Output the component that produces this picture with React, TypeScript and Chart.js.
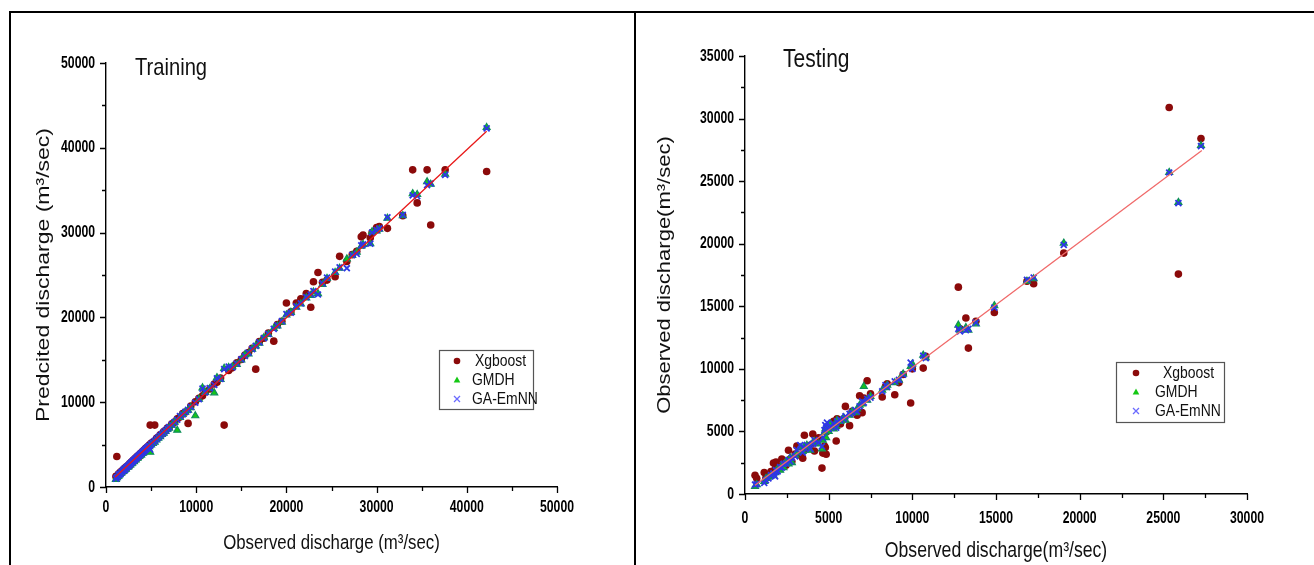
import React, { useEffect, useRef } from "react";
import { Chart, registerables } from "chart.js";

Chart.register(...registerables);

// ---------------- DATA ----------------
const legendLabels = ["Xgboost", "GMDH", "GA-EmNN"];

const trainXTicks = [0, 10000, 20000, 30000, 40000, 50000];
const trainYTicks = [0, 10000, 20000, 30000, 40000, 50000];

const trainObserved = [
  1100, 1200, 1300, 1400, 1500, 1600, 1700, 1800, 1900, 2000,
  2100, 2200, 2300, 2400, 2500, 2600, 2700, 2800, 2900, 3000,
  3100, 3200, 3300, 3400, 3500, 3600, 3700, 3800, 3900, 4000,
  4100, 4200, 4300, 4400, 4500, 4600, 4700, 4800, 4900, 5000,
  5200, 5400, 5600, 5800, 6000, 6200, 6400, 6600, 6800, 7000,
  7300, 7600, 7900, 8200, 8500, 8800, 9100, 9400, 9900,
  10300, 10700, 11000, 11500, 12000, 12300, 12700, 13100, 13600, 14000,
  14500, 15000, 15400, 15800, 16200, 16600, 17000, 17500, 18000, 18600,
  19000, 19500, 20000, 20500, 21100, 21600, 22200, 22700, 23000, 23500,
  24000, 24500, 25400, 25900, 26700, 27300, 27800, 28300, 28500, 29300,
  29500, 30000, 30300, 31200, 32900, 34000, 34500, 35600, 36000, 37600,
  42200,
];
const trainXgboost = [
  1250, 3600, 1350, 1550, 1500, 1750, 1650, 1950, 1850, 2150,
  2050, 2350, 2250, 2500, 2450, 2750, 2600, 2950, 2850, 3150,
  3050, 3350, 3250, 3550, 3450, 3750, 3600, 3950, 3850, 4150,
  4050, 4350, 4250, 4550, 4400, 4750, 4650, 4950, 7300, 5150,
  5300, 7300, 5750, 5850, 6150, 6250, 6550, 6650, 6950, 7050,
  7450, 7650, 8050, 8250, 8650, 8850, 7500, 9550, 10050,
  10450, 10750, 11200, 11550, 12150, 12350, 12850, 7300, 13750, 14050,
  14650, 15050, 15550, 15850, 16350, 13900, 17150, 17550, 18150, 17200,
  19150, 19550, 21700, 20650, 21700, 22200, 22800, 21200, 24200, 25300,
  24150, 24400, 24800, 27200, 26600, 27400, 27800, 29500, 29700, 29400,
  30000, 30600, 30700, 30500, 32000, 37400, 33500, 37400, 30900, 37400,
  37200,
];
const trainGMDH = [
  900, 1100, 1250, 1300, 1450, 1600, 1650, 1800, 1850, 2000,
  2150, 2100, 2300, 2350, 2400, 2650, 2600, 2750, 2800, 3050,
  3000, 3250, 3200, 3450, 3400, 3650, 3650, 3750, 3800, 4000,
  4000, 4150, 4200, 4400, 4350, 4500, 4550, 4750, 4100, 4950,
  5150, 5300, 5550, 5750, 5950, 6200, 6350, 6550, 6800, 6950,
  7300, 7650, 6700, 8200, 8550, 8850, 9050, 9350, 8400,
  10350, 11700, 11150, 11600, 11100, 12900, 12700, 14000, 14100, 14200,
  14450, 15000, 15600, 15700, 16250, 16650, 16950, 17600, 18000, 18700,
  19000, 19450, 20300, 20600, 21200, 21600, 22300, 22600, 23000, 22800,
  23900, 24600, 25300, 25800, 26900, 27300, 27700, 28400, 28600, 28700,
  30100, 30200, 30400, 31700, 32000, 34600, 34500, 36000, 35700, 36900,
  42400,
];
const trainGAEmNN = [
  1000, 1150, 1200, 1450, 1500, 1550, 1750, 1800, 1950, 2100,
  2000, 2250, 2350, 2400, 2550, 2600, 2750, 2850, 2950, 3050,
  3150, 3250, 3350, 3450, 3550, 3650, 3750, 3850, 3950, 4050,
  4150, 4250, 4350, 4450, 4550, 4650, 4750, 4850, 4400, 5050,
  5250, 5450, 5650, 5850, 6050, 6250, 6450, 6650, 6850, 7050,
  7350, 7650, 7950, 8350, 8550, 8850, 9100, 9450, 9950,
  10350, 11600, 11150, 11650, 12050, 12800, 12750, 13900, 14200, 14100,
  14550, 15050, 15450, 15850, 16250, 16650, 17050, 17550, 18050, 18650,
  19050, 19550, 20400, 20550, 21300, 21650, 22400, 22700, 23100, 22700,
  24000, 24700, 25400, 25900, 25800, 27350, 27500, 28500, 28600, 28700,
  30000, 30300, 30500, 31800, 32100, 34400, 34300, 35600, 35800, 36800,
  42300,
];
const trainFitX = [1000, 42200];
const trainFitY = [1150, 41950];

const testXTicks = [0, 5000, 10000, 15000, 20000, 25000, 30000];
const testYTicks = [0, 5000, 10000, 15000, 20000, 25000, 30000, 35000];

const testObserved = [
  600, 700, 1150, 1250, 1400, 1550, 1700, 1800, 1850, 1950,
  2100, 2200, 2300, 2450, 2600, 2700, 2800, 3000, 3100, 3300,
  3450, 3550, 3700, 3900, 4050, 4150, 4400, 4600, 4650, 4750,
  4800, 4850, 4900, 5000, 5100, 5300, 5450, 5500, 5700, 5900,
  6000, 6250, 6400, 6600, 6700, 6850, 7000, 7100, 7300, 7500,
  8200, 8400, 8500, 8950, 9200, 9450, 9900, 10000, 10650, 10800,
  12750, 12850, 13200, 13350, 13800, 14900, 16850, 17250, 19050, 25350,
  25900, 27250,
];
const testXgboost = [
  1500, 1250, 1720, 1300, 1500, 1800, 2480, 2000, 2560, 2250,
  2100, 2800, 2500, 2300, 3500, 2800, 2600, 3200, 3840, 3100,
  2860, 4690, 3600, 3900, 4790, 3440, 4500, 2070, 3270, 3840,
  3710, 3180, 5000, 5300, 5500, 5800, 4240, 6000, 5600, 6000,
  7000, 5460, 6600, 6550, 6300, 7850, 6500, 7670, 9050, 8000,
  7750, 8600, 8800, 7930, 8900, 9550, 7270, 10000, 10060, 11000,
  16530, 13200, 14060, 11660, 13800, 14500, 17000, 16800, 19250, 30880,
  17570, 28400,
];
const testGMDH = [
  600, 750, 1000, 1250, 1350, 1450, 1500, 1700, 1800, 2000,
  1900, 2300, 2100, 2600, 2400, 2900, 2500, 3100, 3300, 3700,
  3400, 3800, 3900, 3500, 4100, 4200, 4000, 3600, 4300, 4900,
  5200, 4500, 5400, 5000, 5600, 5200, 5400, 5900, 5800, 6100,
  5900, 6300, 6600, 6500, 6800, 7100, 7200, 8600, 7500, 7800,
  8300, 8500, 8700, 8900, 9100, 9600, 10200, 10400, 11100, 10900,
  13500, 13100, 13300, 13100, 13600, 15050, 17000, 17200, 20050, 25700,
  23300, 27850,
];
const testGAEmNN = [
  750, 800, 880, 1100, 1250, 1500, 1650, 1400, 1900, 1800,
  2150, 2100, 2400, 2450, 2700, 2600, 2900, 3000, 3500, 3900,
  3300, 3700, 3900, 3600, 4000, 4300, 4100, 3800, 4500, 5100,
  5500, 5300, 5700, 5200, 5400, 5600, 5300, 5800, 5900, 6000,
  6200, 6400, 6500, 6700, 6600, 7000, 7400, 7300, 7600, 7700,
  8200, 8700, 8550, 9000, 9130, 9530, 10500, 10000, 11050, 10860,
  13200, 13000, 13100, 13200, 13700, 14900, 17120, 17300, 19900, 25690,
  23240, 27800,
];
const testFitX = [600, 27300];
const testFitY = [700, 27450];

// ---------------- STYLE ----------------
const SANS = '"Liberation Sans", Arial, sans-serif';
const XGB_COLOR = "#8b0a0a";
const GMDH_COLOR = "#14c814";
const GMDH_EDGE = "#0f8f5a";
const GA_COLOR = "#2f36e6";

type Box = { left: number; top: number; right: number; bottom: number };
type PanelSpec = {
  canvasLeft: number;
  width: number;
  height: number;
  area: Box;
  observed: number[];
  xgb: number[];
  gmdh: number[];
  ga: number[];
  fitX: number[];
  fitY: number[];
  xTicks: number[];
  yTicks: number[];
  title: string;
  titleX: number;
  titleY: number;
  titleSize: number;
  xTitle: string;
  xTitleY: number;
  xTitleSize: number;
  yTitle: string;
  yTitleX: number;
  yTitleSize: number;
  lineColor: string;
  xLabelOffset: number;
  yLabelPad: number;
  legend: Box & { markerX: number; rows: number[]; textX: number[]; size: number };
};

function drawScaledText(
  ctx: CanvasRenderingContext2D,
  text: string,
  x: number,
  y: number,
  font: string,
  sx: number,
  align: CanvasTextAlign,
  rotate: boolean,
  color = "#111"
) {
  ctx.save();
  ctx.translate(x, y);
  ctx.scale(sx, 1);
  if (rotate) ctx.rotate(-Math.PI / 2);
  ctx.font = font;
  ctx.fillStyle = color;
  ctx.textAlign = align;
  ctx.textBaseline = "middle";
  ctx.fillText(text, 0, 0);
  ctx.restore();
}

function makeChart(canvas: HTMLCanvasElement, s: PanelSpec) {
  const ox = s.canvasLeft;
  const pts = (ys: number[]) => s.observed.map((x, i) => ({ x, y: ys[i] }));
  const fit = s.fitX.map((x, i) => ({ x, y: s.fitY[i] }));

  const decor = {
    id: "decor",
    afterDraw(chart: any) {
      const ctx: CanvasRenderingContext2D = chart.ctx;
      const xs = chart.scales.x;
      const ys = chart.scales.y;
      const a = chart.chartArea;
      ctx.save();
      ctx.strokeStyle = "#000";
      ctx.lineWidth = 1.3;
      ctx.beginPath();
      const xt = s.xTicks;
      for (let i = 0; i < xt.length; i++) {
        const p = Math.round(xs.getPixelForValue(xt[i])) + 0.5;
        ctx.moveTo(p, a.bottom);
        ctx.lineTo(p, a.bottom + 6);
        if (i < xt.length - 1) {
          const m = Math.round(xs.getPixelForValue((xt[i] + xt[i + 1]) / 2)) + 0.5;
          ctx.moveTo(m, a.bottom);
          ctx.lineTo(m, a.bottom + 4);
        }
      }
      const yt = s.yTicks;
      for (let i = 0; i < yt.length; i++) {
        const p = Math.round(ys.getPixelForValue(yt[i])) + 0.5;
        ctx.moveTo(a.left, p);
        ctx.lineTo(a.left - 6, p);
        if (i < yt.length - 1) {
          const m = Math.round(ys.getPixelForValue((yt[i] + yt[i + 1]) / 2)) + 0.5;
          ctx.moveTo(a.left, m);
          ctx.lineTo(a.left - 4, m);
        }
      }
      ctx.stroke();
      ctx.restore();

      // tick labels (bold, condensed)
      const tickFont = `bold 16.5px ${SANS}`;
      for (const v of xt) {
        drawScaledText(ctx, String(v), xs.getPixelForValue(v), a.bottom + s.xLabelOffset, tickFont, 0.74, "center", false, "#000");
      }
      for (const v of yt) {
        drawScaledText(ctx, String(v), a.left - s.yLabelPad, ys.getPixelForValue(v), tickFont, 0.74, "right", false, "#000");
      }

      // panel title
      drawScaledText(ctx, s.title, s.titleX - ox, s.titleY, `${s.titleSize}px ${SANS}`, 0.84, "left", false);
      // axis titles
      drawScaledText(ctx, s.xTitle, (a.left + a.right) / 2, s.xTitleY, `${s.xTitleSize}px ${SANS}`, 0.82, "center", false);
      drawScaledText(ctx, s.yTitle, s.yTitleX - ox, (a.top + a.bottom) / 2, `${s.yTitleSize}px ${SANS}`, 0.8, "center", true);

      // legend
      const L = s.legend;
      ctx.save();
      ctx.fillStyle = "#fff";
      ctx.fillRect(L.left - ox, L.top, L.right - L.left, L.bottom - L.top);
      ctx.strokeStyle = "#555";
      ctx.lineWidth = 1.2;
      ctx.strokeRect(L.left - ox + 0.5, L.top + 0.5, L.right - L.left, L.bottom - L.top);
      const mx = L.markerX - ox;
      ctx.fillStyle = XGB_COLOR;
      ctx.beginPath();
      ctx.arc(mx, L.rows[0], 3.3, 0, Math.PI * 2);
      ctx.fill();
      ctx.fillStyle = GMDH_COLOR;
      ctx.beginPath();
      ctx.moveTo(mx, L.rows[1] - 3.5);
      ctx.lineTo(mx + 3.3, L.rows[1] + 2.5);
      ctx.lineTo(mx - 3.3, L.rows[1] + 2.5);
      ctx.closePath();
      ctx.fill();
      ctx.strokeStyle = "#6a6aff";
      ctx.lineWidth = 1.3;
      ctx.beginPath();
      ctx.moveTo(mx - 3, L.rows[2] - 3);
      ctx.lineTo(mx + 3, L.rows[2] + 3);
      ctx.moveTo(mx + 3, L.rows[2] - 3);
      ctx.lineTo(mx - 3, L.rows[2] + 3);
      ctx.stroke();
      ctx.restore();
      for (let i = 0; i < legendLabels.length; i++) {
        drawScaledText(ctx, legendLabels[i], L.textX[i] - ox, L.rows[i], `${L.size}px ${SANS}`, 0.82, "left", false);
      }
    },
  };

  return new Chart(canvas, {
    type: "scatter",
    data: {
      datasets: [
        {
          label: "fit",
          data: fit,
          showLine: true,
          borderColor: s.lineColor,
          borderWidth: 1.3,
          pointRadius: 0,
          fill: false,
        } as any,
        {
          label: legendLabels[2],
          data: pts(s.ga),
          pointStyle: "crossRot",
          pointRadius: 4.2,
          borderColor: GA_COLOR,
          backgroundColor: GA_COLOR,
          pointBorderWidth: 1.8,
        } as any,
        {
          label: legendLabels[1],
          data: pts(s.gmdh),
          pointStyle: "triangle",
          pointRadius: 4,
          borderColor: GMDH_EDGE,
          backgroundColor: GMDH_COLOR,
          pointBorderWidth: 1.2,
        } as any,
        {
          label: legendLabels[0],
          data: pts(s.xgb),
          pointStyle: "circle",
          pointRadius: 3.8,
          borderColor: XGB_COLOR,
          backgroundColor: XGB_COLOR,
          pointBorderWidth: 0,
        } as any,
      ],
    },
    options: {
      animation: false,
      responsive: false,
      maintainAspectRatio: false,
      devicePixelRatio: 1,
      layout: {
        padding: { left: 0, top: s.area.top, right: s.width - (s.area.right - ox), bottom: 0 },
      },
      plugins: {
        legend: { display: false },
        tooltip: { enabled: false },
        title: { display: false },
      },
      scales: {
        x: {
          type: "linear",
          min: s.xTicks[0],
          max: s.xTicks[s.xTicks.length - 1],
          grid: { display: false, drawTicks: false },
          border: { display: true, color: "#000", width: 1.4 },
          afterBuildTicks: (scale: any) => {
            scale.ticks = s.xTicks.map((v) => ({ value: v }));
          },
          afterFit: (scale: any) => {
            scale.height = s.height - s.area.bottom;
          },
          ticks: { display: false },
        },
        y: {
          type: "linear",
          min: s.yTicks[0],
          max: s.yTicks[s.yTicks.length - 1],
          grid: { display: false, drawTicks: false },
          border: { display: true, color: "#000", width: 1.4 },
          afterBuildTicks: (scale: any) => {
            scale.ticks = s.yTicks.map((v) => ({ value: v }));
          },
          afterFit: (scale: any) => {
            scale.width = s.area.left - ox;
          },
          ticks: { display: false },
        },
      },
    } as any,
    plugins: [decor as any],
  });
}

const trainSpec: PanelSpec = {
  canvasLeft: 0,
  width: 634,
  height: 565,
  area: { left: 106, top: 63, right: 557, bottom: 487 },
  observed: trainObserved,
  xgb: trainXgboost,
  gmdh: trainGMDH,
  ga: trainGAEmNN,
  fitX: trainFitX,
  fitY: trainFitY,
  xTicks: trainXTicks,
  yTicks: trainYTicks,
  title: "Training",
  titleX: 135,
  titleY: 68,
  titleSize: 24,
  xTitle: "Observed discharge (m\u00b3/sec)",
  xTitleY: 543,
  xTitleSize: 20.5,
  yTitle: "Predcited discharge (m\u00b3/sec)",
  yTitleX: 44,
  yTitleSize: 23,
  lineColor: "#e81818",
  xLabelOffset: 20,
  yLabelPad: 11,
  legend: {
    left: 439,
    top: 350,
    right: 533,
    bottom: 409,
    markerX: 457,
    rows: [361, 380, 399],
    textX: [475, 472, 472],
    size: 17,
  },
};

const testSpec: PanelSpec = {
  canvasLeft: 636,
  width: 678,
  height: 565,
  area: { left: 745, top: 56, right: 1247, bottom: 494 },
  observed: testObserved,
  xgb: testXgboost,
  gmdh: testGMDH,
  ga: testGAEmNN,
  fitX: testFitX,
  fitY: testFitY,
  xTicks: testXTicks,
  yTicks: testYTicks,
  title: "Testing",
  titleX: 783,
  titleY: 60,
  titleSize: 25,
  xTitle: "Observed discharge(m\u00b3/sec)",
  xTitleY: 551,
  xTitleSize: 21.5,
  yTitle: "Observed discharge(m\u00b3/sec)",
  yTitleX: 665,
  yTitleSize: 22,
  lineColor: "#f06a6a",
  xLabelOffset: 24,
  yLabelPad: 11,
  legend: {
    left: 1116,
    top: 362,
    right: 1224,
    bottom: 422,
    markerX: 1136,
    rows: [373, 392, 411],
    textX: [1163, 1155, 1155],
    size: 17,
  },
};

function Panel({ spec }: { spec: PanelSpec }) {
  const ref = useRef<HTMLCanvasElement | null>(null);
  useEffect(() => {
    if (!ref.current) return;
    const chart = makeChart(ref.current, spec);
    return () => chart.destroy();
  }, [spec]);
  return (
    <canvas
      ref={ref}
      width={spec.width}
      height={spec.height}
      style={{
        position: "absolute",
        left: spec.canvasLeft,
        top: 0,
        width: spec.width,
        height: spec.height,
      }}
    />
  );
}

export default function App() {
  const line = (style: React.CSSProperties) => (
    <div style={{ position: "absolute", background: "#000", zIndex: 2, ...style }} />
  );
  return (
    <div
      style={{
        position: "fixed",
        left: 0,
        top: 0,
        width: 1314,
        height: 565,
        background: "#fff",
        overflow: "hidden",
      }}
    >
      <Panel spec={trainSpec} />
      <Panel spec={testSpec} />
      {line({ left: 9, top: 11, width: 1305, height: 2 })}
      {line({ left: 9, top: 11, width: 2, height: 554 })}
      {line({ left: 634, top: 11, width: 2, height: 554 })}
    </div>
  );
}
